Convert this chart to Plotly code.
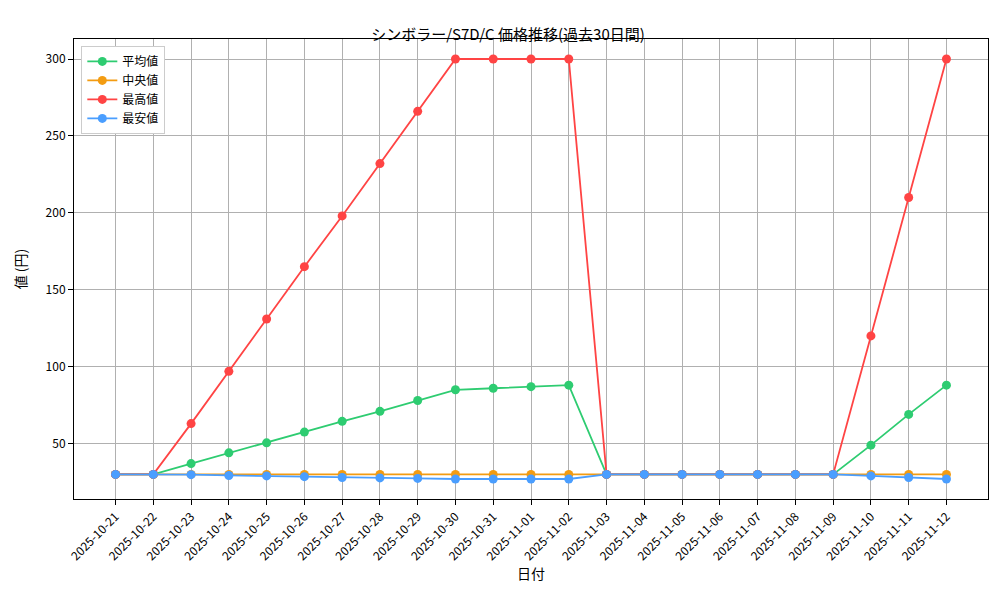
import plotly.graph_objects as go

dates = ["2025-10-21", "2025-10-22", "2025-10-23", "2025-10-24", "2025-10-25", "2025-10-26",
         "2025-10-27", "2025-10-28", "2025-10-29", "2025-10-30", "2025-10-31", "2025-11-01",
         "2025-11-02", "2025-11-03", "2025-11-04", "2025-11-05", "2025-11-06", "2025-11-07",
         "2025-11-08", "2025-11-09", "2025-11-10", "2025-11-11", "2025-11-12"]
avg_vals = [30, 30, 37, 44, 50.5, 57.5, 64.5, 71, 78, 85, 86, 87, 88,
            30, 30, 30, 30, 30, 30, 30, 49, 69, 88]
median_vals = [30] * 23
max_vals = [30, 30, 63, 97, 131, 165, 198, 232, 266, 300, 300, 300, 300,
            30, 30, 30, 30, 30, 30, 30, 120, 210, 300]
min_vals = [30, 30, 29.8, 29.3, 29, 28.5, 28, 27.7, 27.4, 27, 27, 27, 27,
            30, 30, 30, 30, 30, 30, 30, 29, 28, 27]

series = [("平均値", avg_vals, "#2ecc71"), ("中央値", median_vals, "#f39c12"),
          ("最高値", max_vals, "#ff4444"), ("最安値", min_vals, "#4a9eff")]

fig = go.Figure()
for name, vals, color in series:
    fig.add_trace(go.Scatter(x=dates, y=vals, mode="lines+markers", name=name,
                             line=dict(color=color, width=1.8),
                             marker=dict(size=9, color=color)))

axis_style = dict(showgrid=True, gridcolor="#b0b0b0", showline=True, linecolor="black",
                  mirror=True, ticks="outside", tickcolor="black", zeroline=False)
fig.update_layout(
    width=1000, height=600,
    font=dict(family="Noto Sans CJK JP", size=12, color="black"),
    title=dict(text="シンボラー/S7D/C 価格推移(過去30日間)", x=0.5, y=0.965, font=dict(size=15)),
    plot_bgcolor="white", paper_bgcolor="white",
    margin=dict(l=66, r=20, t=31, b=109),
    legend=dict(x=0.008, y=0.985, bordercolor="#cccccc", borderwidth=1, bgcolor="white"),
    xaxis=dict(title=dict(text="日付", standoff=6), type="category", tickangle=-45,
               range=[-1.1, len(dates) - 1 + 1.1], **axis_style),
    yaxis=dict(title=dict(text="値 (円)"), range=[14, 313], tickvals=[50, 100, 150, 200, 250, 300], **axis_style),
)
fig.write_html("out.html")
